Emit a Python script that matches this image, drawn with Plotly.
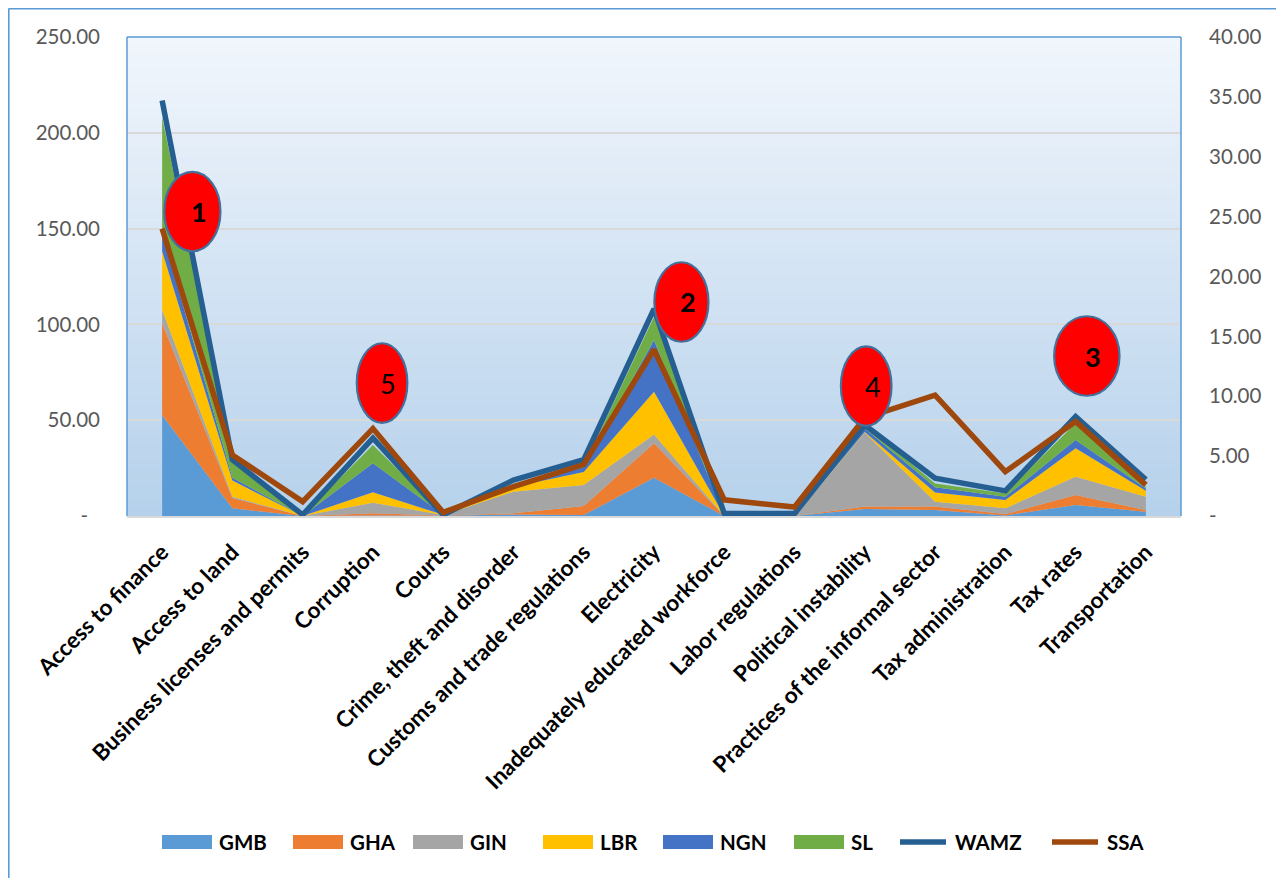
import plotly.graph_objects as go

categories = ["Access to finance", "Access to land", "Business licenses and permits", "Corruption",
              "Courts", "Crime, theft and disorder", "Customs and trade regulations", "Electricity",
              "Inadequately educated workforce", "Labor regulations", "Political instability",
              "Practices of the informal sector", "Tax administration", "Tax rates", "Transportation"]

GMB = [52.7, 4.0, 0.0, 0.3, 0.1, 0.8, 0.5, 20.0, 0.0, 0.0, 3.6, 3.1, 0.3, 5.7, 2.2]
GHA = [48.0, 5.4, 0.0, 1.1, 0.1, 0.6, 4.7, 18.0, 0.0, 0.0, 1.3, 1.8, 0.7, 5.3, 0.9]
GIN = [7.0, 0.6, 0.0, 5.5, 0.3, 11.3, 11.0, 4.6, 0.0, 0.0, 38.6, 2.6, 3.0, 9.5, 6.9]
LBR = [30.5, 8.5, 0.0, 5.5, 0.1, 2.6, 6.8, 22.3, 0.0, 0.0, 0.3, 4.7, 4.3, 14.8, 3.2]
NGN = [10.0, 1.5, 0.0, 15.1, 0.1, 0.3, 2.4, 27.0, 0.0, 0.0, 1.9, 2.8, 1.7, 4.4, 1.2]
SL = [60.0, 9.0, 0.0, 9.5, 0.1, 0.9, 0.6, 12.1, 0.0, 0.0, 1.8, 2.0, 1.8, 8.7, 0.9]

WAMZ = [34.7, 4.7, 0.1, 6.5, 0.1, 3.0, 4.7, 17.3, 0.2, 0.2, 7.6, 3.15, 2.1, 8.3, 3.05]
SSA = [24.0, 5.1, 1.2, 7.3, 0.3, 2.45, 4.3, 13.9, 1.35, 0.75, 8.2, 10.1, 3.7, 7.9, 2.6]

left_ticks = [0, 50, 100, 150, 200, 250]
right_ticks = [0, 5, 10, 15, 20, 25, 30, 35, 40]

# callout ellipses: label, centre (category index, left-axis value), width (categories), bold
callout_labels = ["1", "5", "2", "4", "3"]
callout_x = [0.43, 3.13, 7.39, 10.02, 13.16]
callout_y = [158.9, 69.4, 111.7, 67.8, 83.5]
callout_w = [0.80, 0.72, 0.77, 0.72, 0.93]
callout_bold = [True, False, True, False, True]

area_series = [("GMB", GMB, "#5B9BD5"), ("GHA", GHA, "#ED7D31"), ("GIN", GIN, "#A5A5A5"),
               ("LBR", LBR, "#FFC000"), ("NGN", NGN, "#4472C4"), ("SL", SL, "#70AD47")]
line_series = [("WAMZ", WAMZ, "#255E91"), ("SSA", SSA, "#9E480E")]

# legend layout (page pixels): left edge of each key
legend_key_x = [162, 293, 413, 543, 663, 794, 898, 1050]
LEGEND_Y = 842

FONT = "Lato"
OFF = 8  # page margin of the browser
W, H = 1284 - OFF, 878 - OFF
ML, MT = 127 - OFF, 37 - OFF
MR = W - (1181 - OFF)
MB = H - (516 - OFF)
PW, PH = W - ML - MR, H - MT - MB
px = lambda v: (v - OFF - ML) / PW
py = lambda v: (H - MB - (v - OFF)) / PH

fig = go.Figure()
for name, vals, col in area_series:
    fig.add_trace(go.Scatter(x=categories, y=vals, name=name, stackgroup="one",
                             mode="lines", line=dict(width=0, color=col), fillcolor=col))
for name, vals, col in line_series:
    fig.add_trace(go.Scatter(x=categories, y=vals, name=name, mode="lines", yaxis="y2",
                             line=dict(color=col, width=5.5)))

shapes = []
annotations = []
# gradient plot background
n = 60
top = (241, 246, 252)
bot = (182, 209, 235)
for i in range(n):
    t = (i + 0.5) / n
    c = tuple(round(top[k] + (bot[k] - top[k]) * t) for k in range(3))
    shapes.append(dict(type="rect", xref="x domain", yref="y domain",
                       x0=0, x1=1, y0=1 - (i + 1) / n, y1=1 - i / n + 0.001,
                       fillcolor="rgb(%d,%d,%d)" % c, line=dict(width=0), layer="below"))
# plot area border (left, top, right)
for (x0, y0, x1, y1) in [(0, 0, 0, 1), (0, 1, 1, 1), (1, 0, 1, 1)]:
    shapes.append(dict(type="line", xref="x domain", yref="y domain", x0=x0, y0=y0, x1=x1, y1=y1,
                       line=dict(color="#5B9BD5", width=1.5), layer="above"))
# chart area border (left and top)
shapes.append(dict(type="line", xref="paper", yref="paper", x0=px(8.5), x1=px(8.5), y0=py(8.5), y1=py(900),
                   line=dict(color="#5B9BD5", width=2.2)))
shapes.append(dict(type="line", xref="paper", yref="paper", x0=px(8.5), x1=px(1300), y0=py(8.5), y1=py(8.5),
                   line=dict(color="#5B9BD5", width=2.2)))

# legend keys
legend_items = [(n_, c_, "area") for n_, _, c_ in area_series] + [(n_, c_, "line") for n_, _, c_ in line_series]
for (name, col, kind), kx in zip(legend_items, legend_key_x):
    if kind == "area":
        shapes.append(dict(type="rect", xref="paper", yref="paper", x0=px(kx), x1=px(kx + 50),
                           y0=py(LEGEND_Y + 7), y1=py(LEGEND_Y - 7), fillcolor=col, line=dict(width=0)))
    else:
        shapes.append(dict(type="line", xref="paper", yref="paper", x0=px(kx + 2), x1=px(kx + 48),
                           y0=py(LEGEND_Y), y1=py(LEGEND_Y), line=dict(color=col, width=5.5)))
    annotations.append(dict(x=px(kx + 55), y=py(LEGEND_Y), xref="paper", yref="paper", text="<b>%s</b>" % name,
                            xanchor="left", yanchor="middle", showarrow=False,
                            font=dict(family=FONT, size=20.5, color="black")))

eh = 41.5
for lab, cx, cy, w, b in zip(callout_labels, callout_x, callout_y, callout_w, callout_bold):
    shapes.append(dict(type="circle", xref="x", yref="y", x0=cx - w / 2, x1=cx + w / 2,
                       y0=cy - eh / 2, y1=cy + eh / 2, fillcolor="#FF0000",
                       line=dict(color="#41719C", width=2.2), layer="above"))
    annotations.append(dict(x=cx + 0.09, y=cy, xref="x", yref="y", text=("<b>%s</b>" % lab) if b else lab,
                            showarrow=False, font=dict(family=FONT, size=27, color="black")))

fig.update_layout(
    width=W, height=H,
    margin=dict(l=ML, r=MR, t=MT, b=MB, pad=0, autoexpand=False),
    paper_bgcolor="white", plot_bgcolor="rgba(0,0,0,0)",
    showlegend=False,
    xaxis=dict(type="category", range=[-0.5, 14.5], tickangle=-45,
               tickfont=dict(family=FONT, size=22.5, color="black", weight="bold"),
               showline=True, linecolor="#D9D9D9", linewidth=2, showgrid=False,
               ticks="", ticklabelstandoff=12),
    yaxis=dict(range=[0, 250], tickvals=left_ticks,
               ticktext=["-\u2007" if v == 0 else "%.2f" % v for v in left_ticks],
               tickfont=dict(family=FONT, size=20.5, color="#595959"),
               showgrid=True, gridcolor="#D9D9D9", gridwidth=2, zeroline=False,
               showline=False, ticks="", ticklabelstandoff=26),
    yaxis2=dict(range=[0, 40], tickvals=right_ticks, overlaying="y", side="right",
                ticktext=["-" if v == 0 else "%.2f" % v for v in right_ticks],
                tickfont=dict(family=FONT, size=20.5, color="#595959"),
                showgrid=False, zeroline=False, showline=False, ticks="", ticklabelstandoff=27),
    shapes=shapes, annotations=annotations,
)

fig.write_html("out.html")
